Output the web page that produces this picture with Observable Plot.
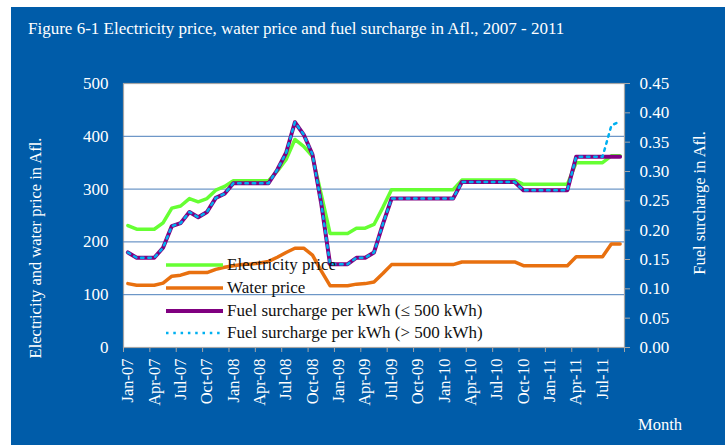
<!DOCTYPE html>
<html>
<head>
<meta charset="utf-8">
<script src="https://cdn.jsdelivr.net/npm/d3@7"></script>
<script src="https://cdn.jsdelivr.net/npm/@observablehq/plot@0.6"></script>
<style>
  body { margin: 0; background: #fff; }
  #wrap { position: relative; width: 725px; height: 445px; overflow: hidden; background: #fff;
          font-family: "Liberation Serif", "Times New Roman", serif; }
  #wrap * { font-family: "Liberation Serif", "Times New Roman", serif !important; }
  #bg { position: absolute; left: 11px; top: 7px; right: 0; bottom: 0; background: #005ca9; }
  #title { position: absolute; left: 28px; top: 19px; color: #fff; font-size: 17px; white-space: nowrap; }
  #chart { position: absolute; left: 0; top: 0; }
  .ylab { position: absolute; color: #fff; font-size: 16.5px; white-space: nowrap; transform: translate(-50%, -50%) rotate(-90deg); }
  #month { position: absolute; left: 660px; top: 425px; transform: translate(-50%, -50%); color: #fff; font-size: 16.5px; }
  #legend { position: absolute; left: 166px; top: 254px; font-size: 17px; color: #111; }
  #legend .row { height: 22.7px; display: flex; align-items: center; white-space: nowrap; }
  #legend svg { width: 57px; height: 10px; margin-right: 4px; flex: none; }
</style>
</head>
<body>
<div id="wrap">
  <div id="bg"></div>
  <div id="chart"></div>
  <div id="title"></div>
  <div class="ylab" id="ylabL" style="left:36px; top:248px;"></div>
  <div class="ylab" id="ylabR" style="left:700px; top:203px;"></div>
  <div id="month"></div>
  <div id="legend"></div>
</div>
<script>
const titleText = "Figure 6-1 Electricity price, water price and fuel surcharge in Afl., 2007 - 2011";
const leftTitle = "Electricity and water price in Afl.";
const rightTitle = "Fuel surcharge in Afl.";
const xTitle = "Month";

const months = [
  "Jan-07","Feb-07","Mar-07","Apr-07","May-07","Jun-07","Jul-07","Aug-07","Sep-07","Oct-07","Nov-07","Dec-07",
  "Jan-08","Feb-08","Mar-08","Apr-08","May-08","Jun-08","Jul-08","Aug-08","Sep-08","Oct-08","Nov-08","Dec-08",
  "Jan-09","Feb-09","Mar-09","Apr-09","May-09","Jun-09","Jul-09","Aug-09","Sep-09","Oct-09","Nov-09","Dec-09",
  "Jan-10","Feb-10","Mar-10","Apr-10","May-10","Jun-10","Jul-10","Aug-10","Sep-10","Oct-10","Nov-10","Dec-10",
  "Jan-11","Feb-11","Mar-11","Apr-11","May-11","Jun-11","Jul-11","Aug-11","Sep-11"
];

const electricity = [
  231,224,224,224,236,264,268,282,276,282,298,305,
  316,316,316,316,316,334,356,394,381,362,290,216,
  216,216,226,226,233,265,299,299,299,299,299,299,
  299,299,317,317,317,317,317,317,317,309,309,309,
  309,309,309,350,350,350,350,363,363
];

const water = [
  121,118,118,118,122,135,137,142,142,142,148,152,
  155,157,158,160,163,171,180,188,188,175,145,117,
  117,117,120,121,124,140,157,157,157,157,157,157,
  157,157,162,162,162,162,162,162,162,155,155,155,
  155,155,155,172,172,172,172,196,196
];

const fuelLow = [
  0.162,0.153,0.153,0.153,0.170,0.207,0.212,0.231,0.222,0.231,0.255,0.262,
  0.280,0.280,0.280,0.280,0.280,0.303,0.332,0.384,0.363,0.329,0.245,0.142,
  0.142,0.142,0.153,0.153,0.162,0.210,0.254,0.254,0.254,0.254,0.254,0.254,
  0.254,0.254,0.282,0.282,0.282,0.282,0.282,0.282,0.282,0.268,0.268,0.268,
  0.268,0.268,0.268,0.325,0.325,0.325,0.325,0.325,0.325
];

const fuelHigh = [
  0.162,0.153,0.153,0.153,0.170,0.207,0.212,0.231,0.222,0.231,0.255,0.262,
  0.280,0.280,0.280,0.280,0.280,0.303,0.332,0.384,0.363,0.329,0.245,0.142,
  0.142,0.142,0.153,0.153,0.162,0.210,0.254,0.254,0.254,0.254,0.254,0.254,
  0.254,0.254,0.282,0.282,0.282,0.282,0.282,0.282,0.282,0.268,0.268,0.268,
  0.268,0.268,0.268,0.325,0.325,0.325,0.325,0.378,0.386
];

const leftTicks = [0, 100, 200, 300, 400, 500];
const rightTicks = [0, 0.05, 0.10, 0.15, 0.20, 0.25, 0.30, 0.35, 0.40, 0.45];
const xLabelMonths = ["Jan-07","Apr-07","Jul-07","Oct-07","Jan-08","Apr-08","Jul-08","Oct-08","Jan-09","Apr-09","Jul-09","Oct-09","Jan-10","Apr-10","Jul-10","Oct-10","Jan-11","Apr-11","Jul-11"];

const seriesNames = ["Electricity price", "Water price", "Fuel surcharge per kWh (≤ 500 kWh)", "Fuel surcharge per kWh (> 500 kWh)"];
const colors = { elec: "#66ff33", water: "#e8700f", low: "#800080", high: "#00b0f0" };

// right axis (0 – 0.45) shares the pixel range of the left axis (0 – 500)
const k = 500 / 0.45;

const rows = months.map((m, i) => ({
  i, m, e: electricity[i], w: water[i], fl: fuelLow[i] * k, fh: fuelHigh[i] * k
}));
const labelIdx = xLabelMonths.map(m => months.indexOf(m));
const boundaries = labelIdx.map(i => i - 0.5).concat([months.length - 0.5]);

const font = "'Liberation Serif', 'Times New Roman', serif";

const chart = Plot.plot({
  width: 725, height: 445,
  marginLeft: 123, marginRight: 101, marginTop: 83, marginBottom: 98,
  style: { background: "transparent", color: "#fff", fontFamily: font, fontSize: "16.5px", overflow: "visible" },
  x: { type: "linear", domain: [-0.5, months.length - 0.5], axis: null },
  y: { domain: [0, 500], axis: null },
  marks: [
    Plot.frame({ fill: "#fff", stroke: "#a6a6a6", strokeWidth: 1.2 }),
    Plot.ruleY(leftTicks.filter(t => t > 0 && t < 500), { stroke: "#4a7ebb", strokeWidth: 1 }),
    Plot.axisY(leftTicks, { anchor: "left", tickSize: 0, tickPadding: 15, fill: "#fff", fontSize: 17, label: null, tickFormat: d => String(d) }),
    Plot.axisY(rightTicks.map(t => t * k), { anchor: "right", tickSize: 5, tickPadding: 10, stroke: "#a6a6a6", fill: "#fff", fontSize: 17, label: null, tickFormat: d => (d / k).toFixed(2) }),
    Plot.axisX(boundaries, { anchor: "bottom", tickSize: 5, stroke: "#a6a6a6", tickFormat: () => "", label: null }),
    Plot.axisX(labelIdx, { anchor: "bottom", tickSize: 0, tickPadding: 11, tickRotate: -90, fill: "#fff", fontSize: 16.5, label: null, tickFormat: i => months[i] }),
    Plot.lineY(rows, { x: "i", y: "e", stroke: colors.elec, strokeWidth: 3.5 }),
    Plot.lineY(rows, { x: "i", y: "w", stroke: colors.water, strokeWidth: 3.5 }),
    Plot.lineY(rows, { x: "i", y: "fl", stroke: colors.low, strokeWidth: 4 }),
    Plot.lineY(rows, { x: "i", y: "fh", stroke: colors.high, strokeWidth: 2.5, strokeDasharray: "2.5 4.8" })
  ]
});
document.getElementById("chart").appendChild(chart);

document.getElementById("title").textContent = titleText;
document.getElementById("ylabL").textContent = leftTitle;
document.getElementById("ylabR").textContent = rightTitle;
document.getElementById("month").textContent = xTitle;

const legendStyles = [
  { stroke: colors.elec, w: 3.5, dash: null },
  { stroke: colors.water, w: 3.5, dash: null },
  { stroke: colors.low, w: 4, dash: null },
  { stroke: colors.high, w: 2.5, dash: "2.5 4.8" }
];
const legend = document.getElementById("legend");
seriesNames.forEach((name, j) => {
  const s = legendStyles[j];
  const row = document.createElement("div");
  row.className = "row";
  row.innerHTML = `<svg viewBox="0 0 57 10"><line x1="0" y1="5" x2="57" y2="5" stroke="${s.stroke}" stroke-width="${s.w}" ${s.dash ? `stroke-dasharray="${s.dash}"` : ""}/></svg><span></span>`;
  row.querySelector("span").textContent = name;
  legend.appendChild(row);
});
</script>
</body>
</html>
